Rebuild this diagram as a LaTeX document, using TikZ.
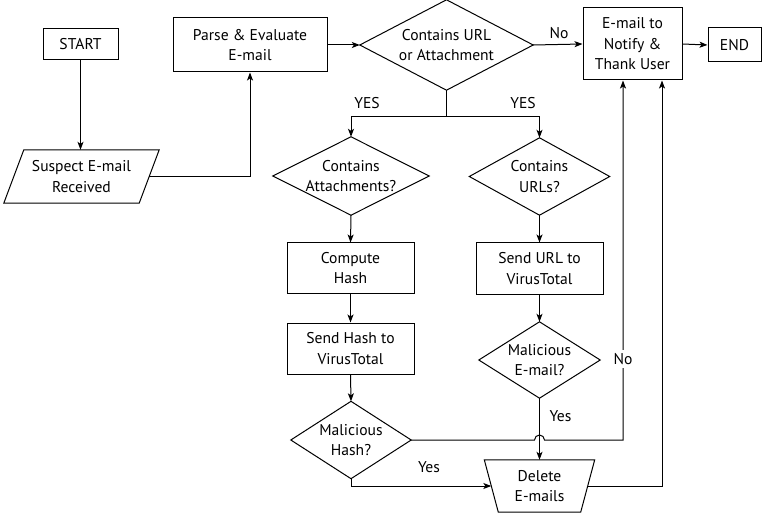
\documentclass[tikz,border=0pt]{standalone}
\usepackage{fontspec}
\setmainfont{PT Sans}
\usetikzlibrary{arrows.meta}
\begin{document}
\begin{tikzpicture}[x=1pt,y=-1pt,
  every node/.style={font=\fontsize{15.6}{20.5}\selectfont, align=center, inner sep=0pt},
  box/.style={draw, line width=1pt, rectangle},
  shp/.style={rectangle},
  ln/.style={line width=1pt, line join=miter},
  conn/.style={line width=1pt, -{Stealth[length=8pt,width=6pt,inset=2pt]}},
  lbl/.style={inner sep=1pt}]
\fill[white] (0,0) rectangle (763,513);
\useasboundingbox (0,0) rectangle (763,513);

% nodes
\node[box, minimum width=75pt, minimum height=31pt] (start) at (80.5,44.5) {START};
\node[shp, minimum width=135pt, minimum height=53pt] (susp) at (81.5,176.5) {Suspect E-mail\\Received};
\node[box, minimum width=154pt, minimum height=54pt] (parse) at (250,45) {Parse \& Evaluate\\E-mail};
\node[shp, minimum width=173pt, minimum height=90pt] (cua) at (446.5,45) {Contains URL\\or Attachment};
\node[box, minimum width=99pt, minimum height=72pt] (notify) at (632.5,44) {E-mail to\\Notify \&\\Thank User};
\node[box, minimum width=53pt, minimum height=34pt] (end) at (734.5,45) {END};
\node[shp, minimum width=156pt, minimum height=78pt] (att) at (351,176) {Contains\\Attachments?};
\node[shp, minimum width=140pt, minimum height=77pt] (urlq) at (539.5,176.5) {Contains\\URLs?};
\node[box, minimum width=127pt, minimum height=50pt] (comp) at (350.5,268) {Compute\\Hash};
\node[box, minimum width=127pt, minimum height=51pt] (sendu) at (539.5,268.5) {Send URL to\\VirusTotal};
\node[box, minimum width=127pt, minimum height=51pt] (sendh) at (350.5,348.5) {Send Hash to\\VirusTotal};
\node[shp, minimum width=121pt, minimum height=76pt] (mailq) at (539.5,360) {Malicious\\E-mail?};
\node[shp, minimum width=120pt, minimum height=77pt] (hashq) at (351,440) {Malicious\\Hash?};
\node[shp, minimum width=96pt, minimum height=52pt] (del) at (539.5,486) {Delete\\E-mails};

% special outlines
\draw[ln] ([xshift=10pt]susp.north west) -- ([xshift=10pt]susp.north east)
  -- ([xshift=-10pt]susp.south east) -- ([xshift=-10pt]susp.south west) -- cycle;
\draw[ln] ([xshift=-7pt]del.north west) -- ([xshift=7pt]del.north east)
  -- ([xshift=-7pt]del.south east) -- ([xshift=7pt]del.south west) -- cycle;
\foreach \n in {cua,att,urlq,mailq,hashq}
  \draw[ln] (\n.north) -- (\n.east) -- (\n.south) -- (\n.west) -- cycle;

% helper coordinates
\coordinate (split) at (446.5,117);
\coordinate (nx) at (623,0);
\coordinate (ny) at (662,0);

% connectors
\draw[conn] (start.south) -- (start.south |- susp.north);
\draw[conn] (susp.east) -| (parse.south);
\draw[conn] (parse.east) -- (cua.west);
\draw[conn] (cua.east) -- (notify.west);
\draw[conn] (notify.east) -- (end.west);
\draw[ln] (cua.south) -- (split);
\draw[conn] (split) -| (att.north);
\draw[conn] (split) -| (urlq.north);
\draw[conn] (att.south) -- (comp.north);
\draw[conn] (comp.south) -- (sendh.north);
\draw[conn] (sendh.south) -- (hashq.north);
\draw[conn] (urlq.south) -- (sendu.north);
\draw[conn] (sendu.south) -- (mailq.north);
\draw[conn] (mailq.south) -- (del.north);
\draw[conn] (hashq.south) |- (del.west);
\draw[conn] (hashq.east) -- ([xshift=-5pt]mailq.south |- hashq.east)
  arc[start angle=180, end angle=0, radius=5pt] -- (nx |- hashq.east) -- (nx |- notify.south);
\draw[conn] (del.east) -- (ny |- del.east) -- (ny |- notify.south);

% labels
\node[lbl] (lno1) at (559,33) {No};
\node[lbl] (lyes1) at (367,103) {YES};
\node[lbl] (lyes2) at (523,103) {YES};
\node[lbl, fill=white, inner sep=3pt] (lno2) at (623,359) {No};
\node[lbl] (lyes3) at (560.5,416) {Yes};
\node[lbl] (lyes4) at (429,467) {Yes};
\end{tikzpicture}
\end{document}
